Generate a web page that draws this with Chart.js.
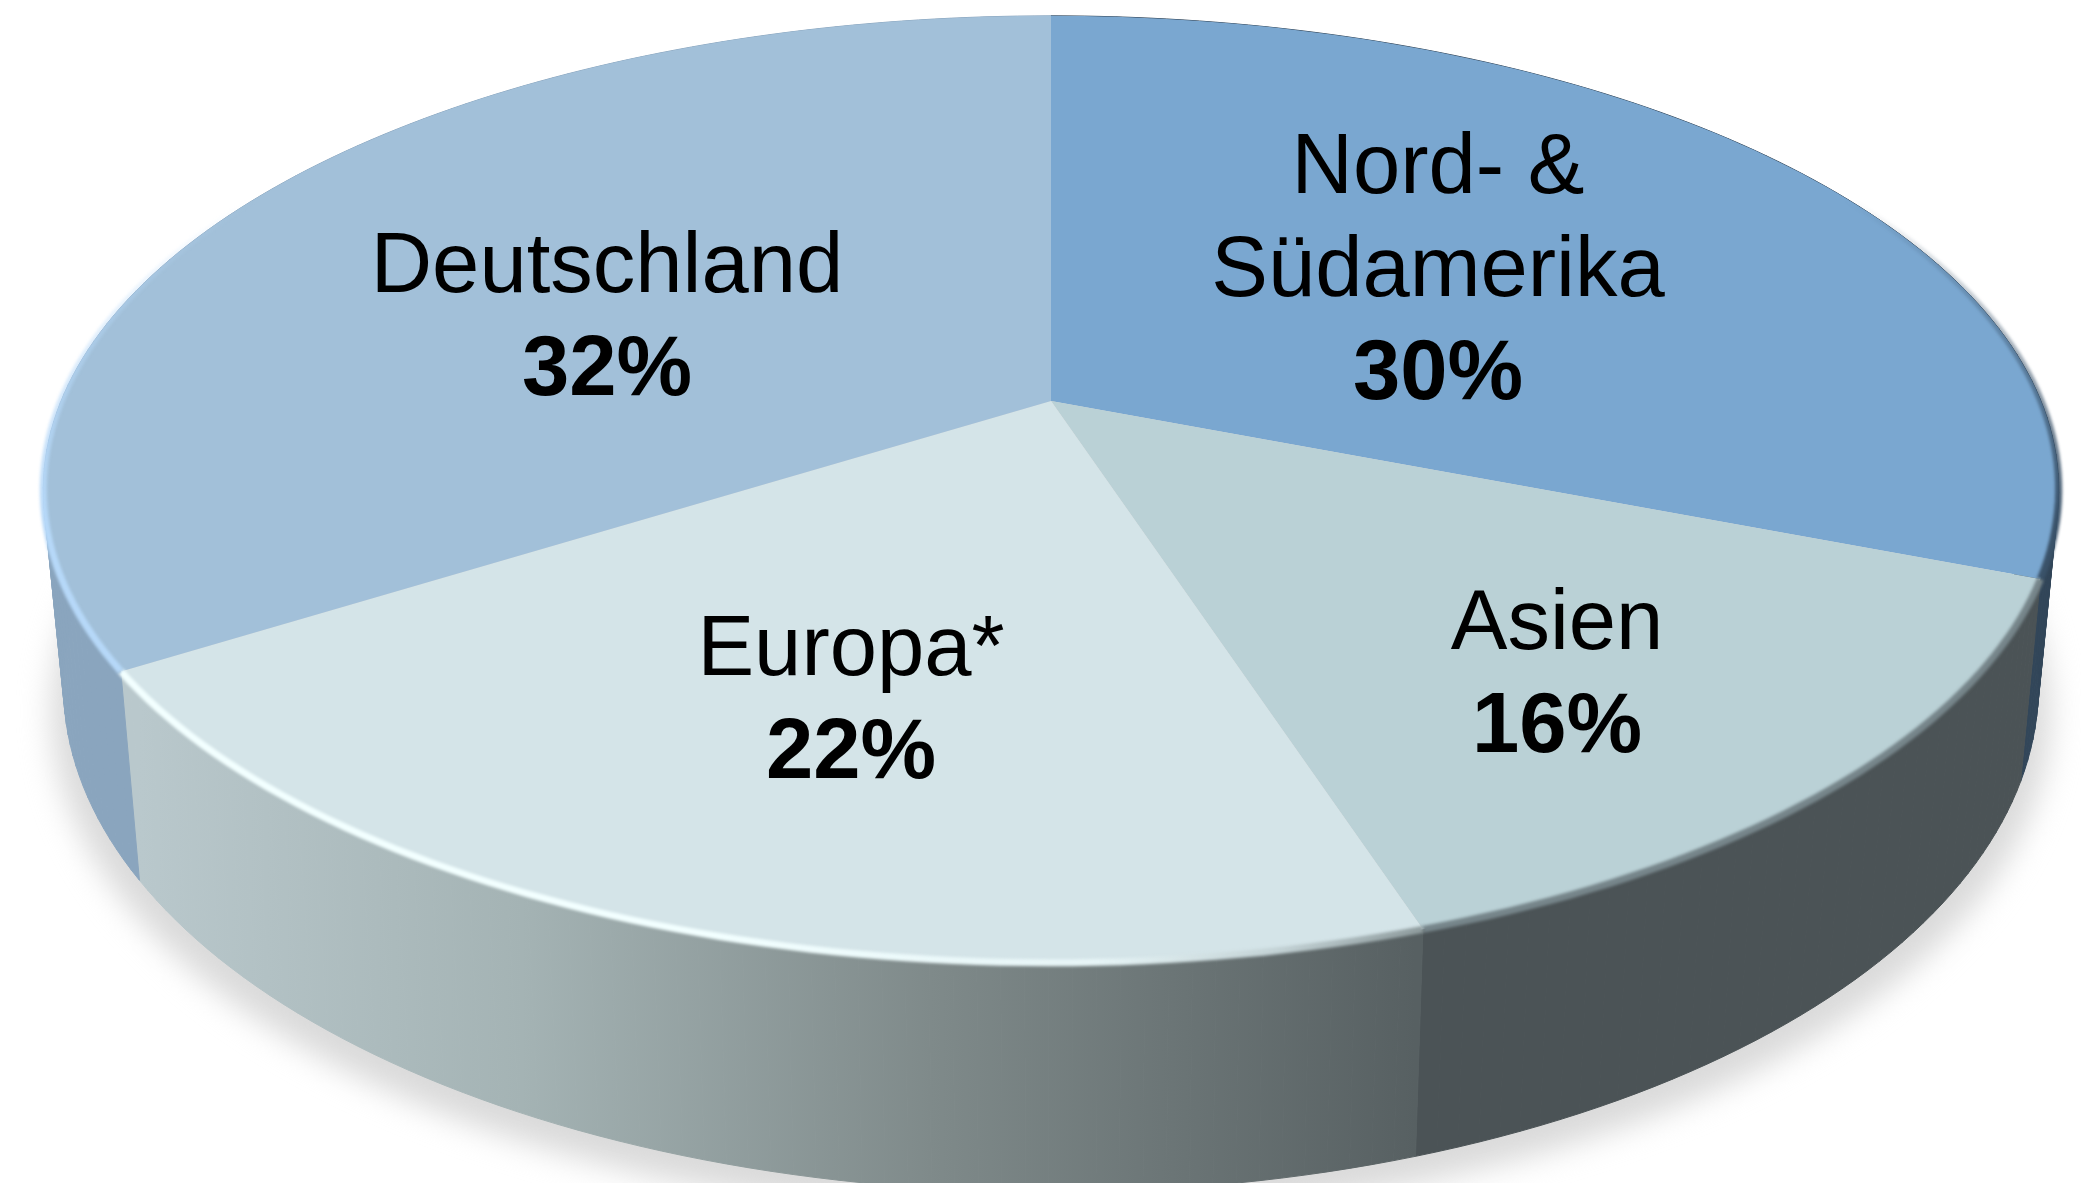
<!DOCTYPE html>
<html lang="de">
<head>
<meta charset="utf-8">
<title>Umsatz nach Regionen</title>
<script src="https://cdn.jsdelivr.net/npm/chart.js@4"></script>
<style>
  html, body { margin: 0; background: #fff; overflow: hidden; }
  canvas { display: block; }
</style>
</head>
<body>
<canvas id="pie" width="2081" height="1183"></canvas>
<script>
// data, clockwise from 12 o'clock
const regions = [['Nord- &', 'Südamerika'], ['Asien'], ['Europa*'], ['Deutschland']];
const shares = [30, 16, 22, 32];

const topColors = ['#7aa7d0', '#bad1d6', '#d4e4e8', '#a2c0d9'];
const wallColors = ['#324659', '#4b5356', null, '#8aa5be'];
const rimColors = ['#3a5269', '#76858a', '#f2ffff', '#b6d8f8'];

// the picture is a tilted pie seen in perspective, canvas has no such transform,
// so the arcs the library lays out get projected here
const apex = { x: 1051, y: 401 };
const tilt = { a: 990, b: 457, k: -0.1865 };
const wall = { sx: 0.98, sy: 1.07, dy: 190 };
// per boundary correction (deg), the original renderer is not a clean projection
const boundaryNudge = [0, 3.3, -3.6, -7, 0];

// x centre, baseline of the first line
const labelPos = [[1438, 193], [1557, 649], [851, 675], [607, 292]];
const lineHeight = 103;

function rim(t) {
  const x = Math.sin(t), y = -Math.cos(t), d = 1 + tilt.k * y;
  return [tilt.a * x / d, tilt.b * y / d];
}

function topPoint(t) {
  const p = rim(t);
  return [apex.x + p[0], apex.y + p[1]];
}

function wallPoint(t) {
  const p = rim(t);
  return [apex.x + p[0] * wall.sx, apex.y + p[1] * wall.sy + wall.dy];
}

function sweep(t0, t1, fn) {
  const pts = [], n = Math.ceil(Math.abs(t1 - t0) / 0.02);
  for (let i = 0; i <= n; i++) pts.push(fn(t0 + (t1 - t0) * i / n));
  return pts;
}

function trace(ctx, pts, start) {
  pts.forEach((p, i) => (i === 0 && start) ? ctx.moveTo(p[0], p[1]) : ctx.lineTo(p[0], p[1]));
}

function sliceAngles(arcs, i) {
  const rad = Math.PI / 180;
  return [
    arcs[i].startAngle + Math.PI / 2 + boundaryNudge[i] * rad,
    arcs[i].endAngle + Math.PI / 2 + boundaryNudge[i + 1] * rad
  ];
}

// the wall folds over itself at the sides, so fill it strip by strip
function fillWall(ctx, t0, t1, style) {
  const tops = sweep(t0, t1, topPoint), lows = sweep(t0, t1, wallPoint);
  ctx.fillStyle = style;
  ctx.strokeStyle = style;
  ctx.lineWidth = 1;
  for (let i = 0; i < tops.length - 1; i++) {
    ctx.beginPath();
    trace(ctx, [tops[i], tops[i + 1], lows[i + 1], lows[i]], true);
    ctx.closePath();
    ctx.fill();
    ctx.stroke();
  }
}

function rimStyle(ctx, i) {
  if (i === 2) {
    // white highlight dies out towards the dark side
    const g = ctx.createLinearGradient(700, 0, 1420, 0);
    g.addColorStop(0, rimColors[2]);
    g.addColorStop(0.55, '#e6f4f6');
    g.addColorStop(0.8, '#c3d2d5');
    g.addColorStop(1, '#8f9c9e');
    return g;
  }
  const g = ctx.createLinearGradient(0, 200, 0, 520);
  g.addColorStop(0, rimColors[i] + '00');
  g.addColorStop(1, rimColors[i]);
  return g;
}

const tiltedPie = {
  id: 'tiltedPie',
  beforeDatasetsDraw(chart) {
    const ctx = chart.ctx;
    const arcs = chart.getDatasetMeta(0).data;
    ctx.save();

    // soft ground shadow
    ctx.save();
    ctx.filter = 'blur(15px)';
    ctx.fillStyle = '#dadada';
    ctx.beginPath();
    trace(ctx, sweep(0, Math.PI * 2, t => {
      const p = wallPoint(t);
      return [apex.x + (p[0] - apex.x) * 1.012, p[1] + 26];
    }), true);
    ctx.closePath();
    ctx.fill();
    ctx.restore();

    // side walls
    arcs.forEach((arc, i) => {
      const [t0, t1] = sliceAngles(arcs, i);
      let style = wallColors[i];
      if (!style) {
        style = ctx.createLinearGradient(wallPoint(t1)[0], 0, wallPoint(t0)[0], 0);
        style.addColorStop(0, '#b9c8cc');
        style.addColorStop(0.3, '#a4b3b4');
        style.addColorStop(0.62, '#7f8a8a');
        style.addColorStop(1, '#576062');
      }
      fillWall(ctx, t0, t1, style);
    });

    // top faces
    arcs.forEach((arc, i) => {
      const [t0, t1] = sliceAngles(arcs, i);
      ctx.beginPath();
      ctx.moveTo(apex.x, apex.y);
      trace(ctx, sweep(t0, t1, topPoint), false);
      ctx.closePath();
      ctx.fillStyle = topColors[i];
      ctx.fill();
    });

    // bevel along the outer edge, only on the near half
    arcs.forEach((arc, i) => {
      const [t0, t1] = sliceAngles(arcs, i);
      ctx.save();
      ctx.filter = 'blur(1.5px)';
      ctx.lineWidth = 7;
      ctx.strokeStyle = rimStyle(ctx, i);
      ctx.beginPath();
      trace(ctx, sweep(t0, t1, topPoint), true);
      ctx.stroke();
      ctx.restore();
    });

    ctx.restore();
    return false;
  },
  // returning false above also skips afterDatasetsDraw
  afterDraw(chart) {
    const ctx = chart.ctx;
    ctx.save();
    ctx.fillStyle = '#000';
    ctx.textAlign = 'center';
    ctx.textBaseline = 'alphabetic';
    regions.forEach((lines, i) => {
      let y = labelPos[i][1];
      ctx.font = '85px "Liberation Sans", Arial, sans-serif';
      lines.forEach(line => {
        ctx.fillText(line, labelPos[i][0], y);
        y += lineHeight;
      });
      ctx.font = 'bold 85px "Liberation Sans", Arial, sans-serif';
      ctx.fillText(shares[i] + '%', labelPos[i][0], y);
    });
    ctx.restore();
  }
};

new Chart(document.getElementById('pie'), {
  type: 'pie',
  data: {
    labels: regions.map(r => r.join(' ')),
    datasets: [{
      data: shares,
      backgroundColor: topColors
    }]
  },
  options: {
    responsive: false,
    animation: false,
    plugins: {
      legend: { display: false },
      tooltip: { enabled: false }
    }
  },
  plugins: [tiltedPie]
});
</script>
</body>
</html>
